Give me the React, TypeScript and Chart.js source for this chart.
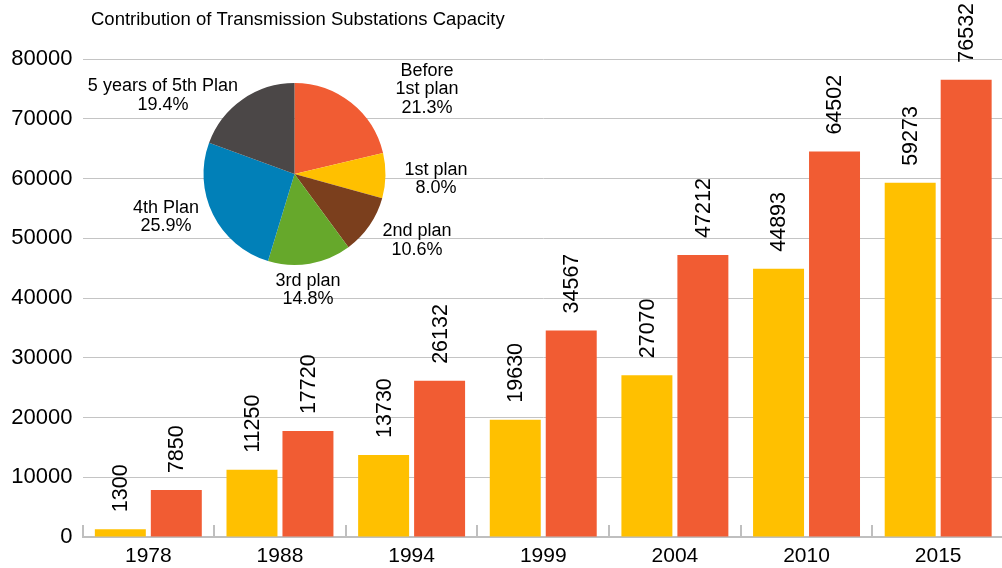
import React, { useEffect, useRef } from "react";
import { Chart, registerables } from "chart.js";

Chart.register(...registerables);

const FONT = '"Liberation Sans", Arial, Helvetica, sans-serif';

// ---- data ----
const titleText = "Contribution of Transmission Substations Capacity";
const years = ["1978", "1988", "1994", "1999", "2004", "2010", "2015"];
const seriesYellow = [1300, 11250, 13730, 19630, 27070, 44893, 59273];
const seriesOrange = [7850, 17720, 26132, 34567, 47212, 64502, 76532];
const yMin = 0;
const yMax = 80000;
const yStep = 10000;

const pieNames = [
  ["Before", "1st plan"],
  ["1st plan"],
  ["2nd plan"],
  ["3rd plan"],
  ["4th Plan"],
  ["5 years of 5th Plan"],
];
const pieValues = [21.3, 8.0, 10.6, 14.8, 25.9, 19.4];

// ---- styles / layout ----
const YELLOW = "#FFC000";
const ORANGE = "#F15C33";
const pieColors = [ORANGE, YELLOW, "#7B3F1D", "#66A82B", "#0180B8", "#4B4747"];
// label placement around the pie: [angle shift (deg) from slice mid-angle, distance in radii]
const pieLabelPlacement = [
  [19.0, 1.73],
  [0.9, 1.556],
  [-6.1, 1.532],
  [3.1, 1.283],
  [8.0, 1.489],
  [-24.3, 1.683],
];

const titlePlugin = {
  id: "titleText",
  afterDraw(chart: any) {
    const ctx = chart.ctx;
    ctx.save();
    ctx.font = `18.5px ${FONT}`;
    ctx.fillStyle = "#000";
    ctx.textAlign = "left";
    ctx.textBaseline = "alphabetic";
    ctx.fillText(titleText, 91, 25);
    ctx.restore();
  },
};

const categoryTicks = {
  id: "categoryTicks",
  afterDatasetsDraw(chart: any) {
    const { ctx, chartArea } = chart;
    const n = chart.data.labels.length;
    const w = (chartArea.right - chartArea.left) / n;
    ctx.save();
    ctx.strokeStyle = "#bfbfbf";
    ctx.lineWidth = 2;
    for (let i = 0; i <= n; i++) {
      const x = Math.round(chartArea.left + i * w);
      ctx.beginPath();
      ctx.moveTo(x, chartArea.bottom);
      ctx.lineTo(x, chartArea.bottom - 12);
      ctx.stroke();
    }
    ctx.restore();
  },
};

const barValueLabels = {
  id: "barValueLabels",
  afterDatasetsDraw(chart: any) {
    const ctx = chart.ctx;
    ctx.save();
    ctx.font = `21.5px ${FONT}`;
    ctx.fillStyle = "#000";
    ctx.textAlign = "left";
    ctx.textBaseline = "middle";
    chart.data.datasets.forEach((ds: any, di: number) => {
      const meta = chart.getDatasetMeta(di);
      meta.data.forEach((el: any, i: number) => {
        ctx.save();
        ctx.translate(el.x, el.y - 17);
        ctx.rotate(-Math.PI / 2);
        ctx.fillText(String(ds.data[i]), 0, 1);
        ctx.restore();
      });
    });
    ctx.restore();
  },
};

const pieLabelPlugin = {
  id: "pieLabels",
  afterDatasetsDraw(chart: any) {
    const meta = chart.getDatasetMeta(0);
    const values = chart.data.datasets[0].data as number[];
    const total = values.reduce((a, b) => a + b, 0);
    const ctx = chart.ctx;
    ctx.save();
    ctx.font = `18px ${FONT}`;
    ctx.fillStyle = "#000";
    ctx.textAlign = "center";
    ctx.textBaseline = "middle";
    meta.data.forEach((arc: any, i: number) => {
      const p = arc.getProps(["x", "y", "startAngle", "endAngle", "outerRadius"], true);
      const [shift, dist] = pieLabelPlacement[i];
      const a = (p.startAngle + p.endAngle) / 2 + (shift * Math.PI) / 180;
      const cx = p.x + Math.cos(a) * p.outerRadius * dist;
      const cy = p.y + Math.sin(a) * p.outerRadius * dist;
      const lines = [...pieNames[i], ((values[i] / total) * 100).toFixed(1) + "%"];
      lines.forEach((t, k) => {
        ctx.fillText(t, cx, cy + (k - (lines.length - 1) / 2) * 18.5);
      });
    });
    ctx.restore();
  },
};

export default function App() {
  const barRef = useRef<HTMLCanvasElement>(null);
  const pieRef = useRef<HTMLCanvasElement>(null);

  useEffect(() => {
    const bar = new Chart(barRef.current!, {
      type: "bar",
      data: {
        labels: years,
        datasets: [
          {
            label: "Series 1",
            data: seriesYellow,
            backgroundColor: YELLOW,
            borderWidth: 0,
            categoryPercentage: 0.8504,
            barPercentage: 0.9107,
          },
          {
            label: "Series 2",
            data: seriesOrange,
            backgroundColor: ORANGE,
            borderWidth: 0,
            categoryPercentage: 0.8504,
            barPercentage: 0.9107,
          },
        ],
      },
      options: {
        responsive: false,
        animation: false,
        devicePixelRatio: 1,
        layout: { padding: { left: 0, right: 2, top: 59, bottom: 0 } },
        plugins: { legend: { display: false }, tooltip: { enabled: false }, title: { display: false } },
        scales: {
          x: {
            grid: { display: false, drawTicks: false },
            border: { display: true, color: "#bfbfbf", width: 2 },
            ticks: { font: { size: 21, family: FONT }, color: "#000", padding: 7 },
            afterFit(s: any) {
              s.height = 31;
            },
          },
          y: {
            min: yMin,
            max: yMax,
            ticks: {
              stepSize: yStep,
              font: { size: 22, family: FONT },
              color: "#000",
              padding: 10,
              callback: (v: any) => String(v),
            },
            grid: { color: "#c4c4c4", lineWidth: 1, drawTicks: false },
            border: { display: false },
            afterFit(s: any) {
              s.width = 82.5;
            },
          },
        },
      },
      plugins: [titlePlugin, categoryTicks, barValueLabels],
    } as any);

    const pie = new Chart(pieRef.current!, {
      type: "pie",
      data: {
        labels: pieNames.map((n) => n.join(" ")),
        datasets: [{ data: pieValues, backgroundColor: pieColors, borderWidth: 0 }],
      },
      options: {
        responsive: false,
        animation: false,
        devicePixelRatio: 1,
        layout: { padding: { left: 143.5, right: 144.5, top: 43, bottom: 55 } },
        plugins: { legend: { display: false }, tooltip: { enabled: false } },
      },
      plugins: [pieLabelPlugin],
    } as any);

    return () => {
      bar.destroy();
      pie.destroy();
    };
  }, []);

  return (
    <div
      style={{
        position: "fixed",
        left: 0,
        top: 0,
        width: 1002,
        height: 568,
        overflow: "hidden",
        background: "#fff",
      }}
    >
      <canvas
        ref={barRef}
        width={1006}
        height={568}
        style={{ position: "absolute", left: 0, top: 0, width: 1006, height: 568 }}
      />
      <canvas
        ref={pieRef}
        width={470}
        height={280}
        style={{ position: "absolute", left: 60, top: 40, width: 470, height: 280 }}
      />
    </div>
  );
}
